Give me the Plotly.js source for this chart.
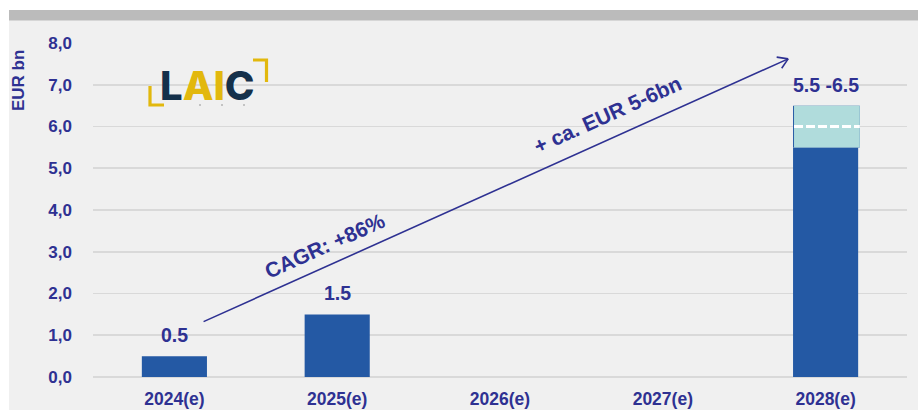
<!DOCTYPE html>
<html>
<head>
<meta charset="utf-8">
<script src="https://cdn.plot.ly/plotly-3.0.1.min.js"></script>
<style>html,body{margin:0;padding:0;background:#ffffff;}#chart{width:918px;height:410px;}</style>
</head>
<body>
<div id="chart"></div>
<script>
// ---- data ----
const categories = ['2024(e)', '2025(e)', '2026(e)', '2027(e)', '2028(e)'];
const baseValues = [0.5, 1.5, null, null, 5.5];
const rangeLow = [null, null, null, null, 5.5];
const rangeHigh = [null, null, null, null, 6.5];
const valueLabels = ['0.5', '1.5', '', '', '5.5 -6.5'];
const yTickVals = [0, 1, 2, 3, 4, 5, 6, 7, 8];
const yTickText = ['0,0', '1,0', '2,0', '3,0', '4,0', '5,0', '6,0', '7,0', '8,0'];
const yAxisTitle = 'EUR bn';
const arrowStart = [0.17, 1.31];   // [category index, value]
const arrowEnd = [3.77, 7.62];
const cagrLabel = 'CAGR: +86%';
const cagrPos = [0.925, 3.16];
const growthLabel = '+ ca. EUR 5-6bn';
const growthPos = [2.66, 6.28];

// ---- styles ----
const NAVY = '#2e3192';
const BAR = '#2459a4';
const CYAN = '#b0dcdc';
const FONT = 'Liberation Sans, Arial, sans-serif';
const ML = 93, MT = 43, PW = 814, PH = 334;
const px2x = p => (p - ML) / PW;
const px2y = p => (MT + PH - p) / PH;

const rangeSize = rangeHigh.map((h, i) => (h == null ? null : h - rangeLow[i]));

const traces = [
  { type: 'bar', x: categories, y: baseValues, width: 0.4, offset: -0.2,
    marker: { color: BAR }, hoverinfo: 'skip' },
  { type: 'bar', x: categories, y: rangeSize, base: rangeLow, width: 0.41, offset: -0.2,
    marker: { color: BAR }, hoverinfo: 'skip' },
  { type: 'bar', x: categories, y: rangeSize, base: rangeLow, width: 0.404, offset: -0.194,
    marker: { color: CYAN }, hoverinfo: 'skip' }
];

const annotations = [];
categories.forEach((c, i) => {
  if (!valueLabels[i]) return;
  const top = rangeHigh[i] != null ? rangeHigh[i] : baseValues[i];
  annotations.push({ x: i, y: top, xref: 'x', yref: 'y', text: valueLabels[i], showarrow: false,
    xanchor: 'center', yanchor: 'middle', yshift: 21, font: { family: FONT, size: 19.5, color: NAVY, weight: 'bold' } });
});
// main arrow line
annotations.push({ x: arrowEnd[0], y: arrowEnd[1], ax: arrowStart[0], ay: arrowStart[1],
  xref: 'x', yref: 'y', axref: 'x', ayref: 'y', text: '', showarrow: true, arrowhead: 0,
  arrowwidth: 1.6, arrowcolor: NAVY, standoff: 0, startstandoff: 0 });
// open arrow head arms
[[-13, -2], [-7.5, 10.8]].forEach(o => {
  annotations.push({ x: arrowEnd[0], y: arrowEnd[1], xref: 'x', yref: 'y', ax: o[0], ay: o[1],
    text: '', showarrow: true, arrowhead: 0, arrowwidth: 1.6, arrowcolor: NAVY, standoff: 0 });
});
const angle = -24.2;
annotations.push({ x: cagrPos[0], y: cagrPos[1], xref: 'x', yref: 'y', text: cagrLabel, showarrow: false,
  xanchor: 'center', yanchor: 'middle', textangle: angle, font: { family: FONT, size: 21, color: NAVY, weight: 'bold' } });
annotations.push({ x: growthPos[0], y: growthPos[1], xref: 'x', yref: 'y', text: growthLabel, showarrow: false,
  xanchor: 'center', yanchor: 'middle', textangle: angle, font: { family: FONT, size: 21, color: NAVY, weight: 'bold' } });
// y axis title
annotations.push({ x: px2x(18), y: px2y(81), xref: 'paper', yref: 'paper', text: yAxisTitle, showarrow: false,
  xanchor: 'center', yanchor: 'middle', textangle: -90, font: { family: FONT, size: 17, color: NAVY, weight: 'bold' } });
// logo
annotations.push({ x: px2x(207), y: px2y(85), xref: 'paper', yref: 'paper', showarrow: false,
  xanchor: 'center', yanchor: 'middle',
  text: '<span style="color:#15304a">L</span><span style="color:#e2b80d">AI</span><span style="color:#15304a">C</span>',
  font: { family: 'Inter, Open Sans, sans-serif', size: 40, weight: 800, color: '#15304a' } });

const GOLD = '#e2b80d';
const shapes = [
  // page decoration
  { type: 'rect', xref: 'paper', yref: 'paper', x0: px2x(0), x1: px2x(918), y0: px2y(10), y1: px2y(0),
    fillcolor: '#ffffff', line: { width: 0 } },
  { type: 'rect', xref: 'paper', yref: 'paper', x0: px2x(0), x1: px2x(9), y0: px2y(410), y1: px2y(0),
    fillcolor: '#ffffff', line: { width: 0 } },
  { type: 'rect', xref: 'paper', yref: 'paper', x0: px2x(9), x1: px2x(918), y0: px2y(20.5), y1: px2y(10),
    fillcolor: '#bbbbbb', line: { width: 0 } },
  // logo brackets
  { type: 'path', xref: 'paper', yref: 'paper',
    path: `M${px2x(150)},${px2y(86)} L${px2x(150)},${px2y(105)} L${px2x(164)},${px2y(105)}`,
    line: { color: GOLD, width: 3.2 } },
  { type: 'path', xref: 'paper', yref: 'paper',
    path: `M${px2x(253)},${px2y(60)} L${px2x(266.5)},${px2y(60)} L${px2x(266.5)},${px2y(82)}`,
    line: { color: GOLD, width: 3.2 } }
];
[200, 222, 244].forEach(p => shapes.push({ type: 'circle', xref: 'paper', yref: 'paper',
  x0: px2x(p - 0.8), x1: px2x(p + 0.8), y0: px2y(105.8), y1: px2y(104.2),
  fillcolor: '#8a8a8a', line: { width: 0 } }));
// dashed midpoint on range bar
rangeHigh.forEach((h, i) => {
  if (h == null) return;
  const mid = (h + rangeLow[i]) / 2;
  shapes.push({ type: 'line', xref: 'x', yref: 'y', x0: i - 0.194, x1: i + 0.21, y0: mid, y1: mid,
    line: { color: '#ffffff', width: 3, dash: '9px,3px' } });
});

const layout = {
  width: 918, height: 410,
  margin: { l: ML, r: 918 - ML - PW, t: MT, b: 410 - MT - PH },
  paper_bgcolor: '#f0f0f0', plot_bgcolor: 'rgba(0,0,0,0)',
  showlegend: false, barmode: 'overlay',
  font: { family: FONT, color: NAVY },
  xaxis: { type: 'category', showgrid: false, showline: false, zeroline: false, ticks: '',
    ticklabelstandoff: 9, tickfont: { family: FONT, size: 17.5, color: NAVY, weight: 'bold' },
    fixedrange: true },
  yaxis: { range: [0, 8], tickvals: yTickVals, ticktext: yTickText, showgrid: true,
    gridcolor: '#d9d9d9', gridwidth: 1.6, zeroline: true, zerolinecolor: '#d9d9d9', zerolinewidth: 1.6,
    showline: false, ticks: '', ticklabelstandoff: 20,
    tickfont: { family: FONT, size: 17, color: NAVY, weight: 'bold' }, fixedrange: true },
  annotations: annotations,
  shapes: shapes
};

Plotly.newPlot('chart', traces, layout, { displayModeBar: false, staticPlot: true });
</script>
</body>
</html>
